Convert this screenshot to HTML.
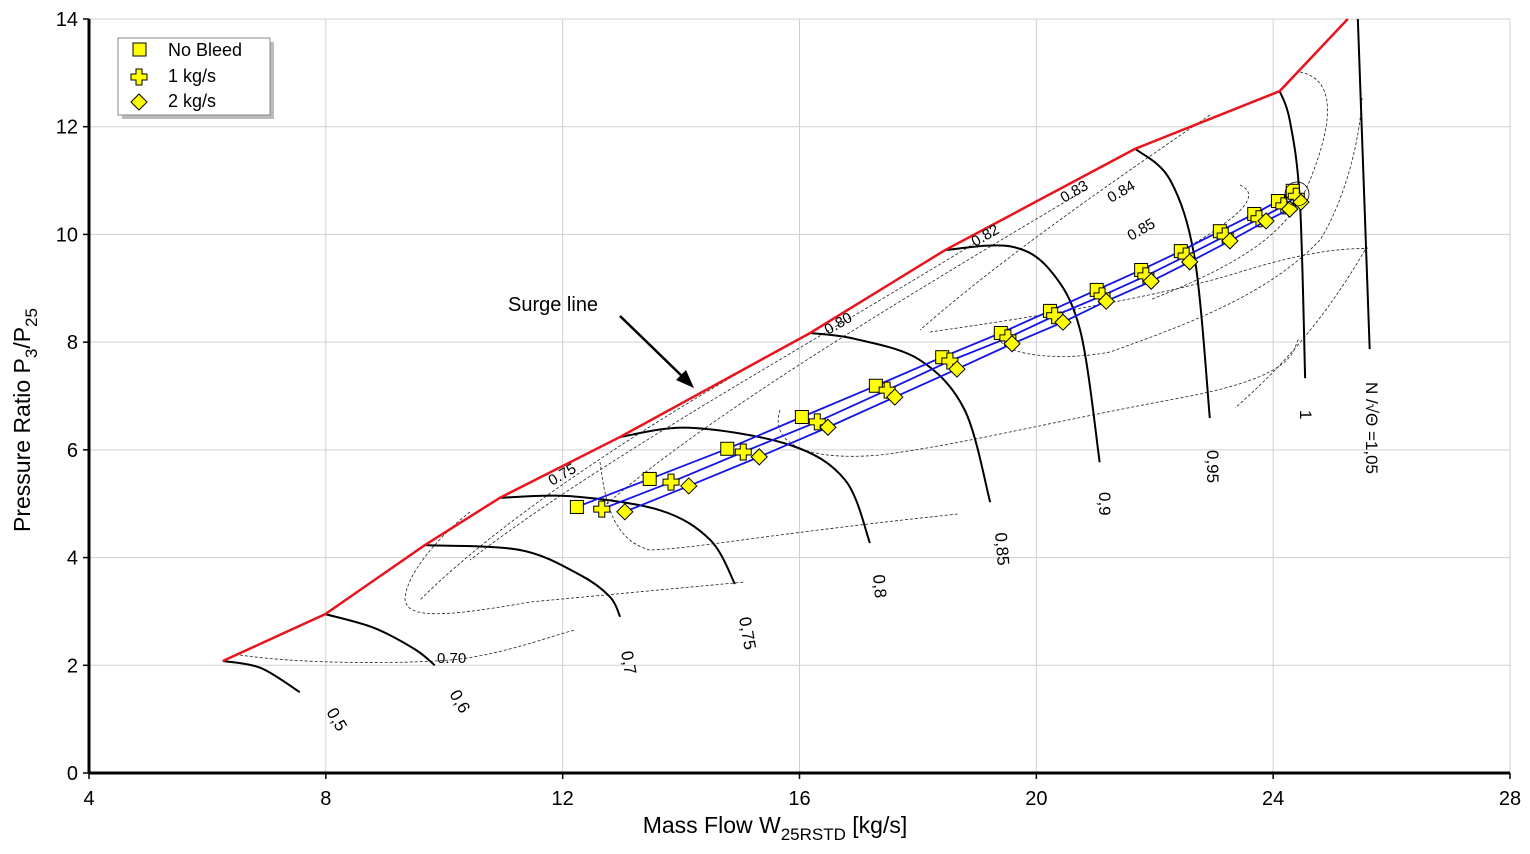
<!DOCTYPE html>
<html><head><meta charset="utf-8"><style>
body{margin:0;background:#fff;font-family:"Liberation Sans",sans-serif}
svg text{font-family:"Liberation Sans",sans-serif}
</style></head><body>
<svg id="chart" width="1530" height="849" viewBox="0 0 1530 849" xmlns="http://www.w3.org/2000/svg">
<g id="grid"></g>
<g id="contours" fill="none" stroke="#222" stroke-width="0.8" stroke-dasharray="3,2">
<path d="M240,655 C300,664 400,664 450,660 S560,633 575,630"/>
<path d="M470,512 C440,535 405,575 405,600 C408,618 440,618 530,602 L745,582"/>
<path d="M600,462 C605,500 612,540 650,550 C700,548 760,535 958,514"/>
<path d="M780,410 C770,440 800,462 880,455 C960,445 1050,422 1180,398 S1290,345 1300,338"/>
<path d="M930,332 C1000,322 1150,300 1240,272 S1360,250 1368,248"/>
<path d="M1240,185 C1262,195 1240,215 1200,240 C1120,285 1020,320 1000,335 C995,355 1060,362 1110,352 C1200,320 1270,292 1320,240 C1345,200 1360,140 1362,98"/>
<path d="M1300,72 C1340,80 1330,130 1310,180 C1290,230 1250,260 1150,300"/>
<path d="M1085,190 C900,300 700,420 600,510"/>
<path d="M975,243 C800,350 600,460 470,560"/>
<path d="M810,333 C650,420 500,520 420,600"/>
<path d="M1210,115 C1100,190 1000,260 920,330"/>
<path d="M1365,250 C1330,310 1290,360 1235,408"/>
</g>
<g id="speeds"></g>
<g id="surge"></g>
<g id="oplines"></g>
<g id="axes"></g>
<g font-size="17" fill="#000">
<text transform="translate(326,712) rotate(60)">0,5</text>
<text transform="translate(449,694) rotate(60)">0,6</text>
<text transform="translate(621,652) rotate(80)">0,7</text>
<text transform="translate(739,618) rotate(80)">0,75</text>
<text transform="translate(873,575) rotate(85)">0,8</text>
<text transform="translate(995,533) rotate(85)">0,85</text>
<text transform="translate(1099,492) rotate(90)">0,9</text>
<text transform="translate(1207,450) rotate(90)">0,95</text>
<text transform="translate(1300,410) rotate(90)">1</text>
<text transform="translate(1366,382) rotate(90)">N /√Θ =1,05</text>
</g>
<g font-size="15" fill="#000">
<text x="437" y="663">0.70</text>
<text transform="translate(552,486) rotate(-30)">0.75</text>
<text transform="translate(828,335) rotate(-30)">0.80</text>
<text transform="translate(975,247) rotate(-30)">0.82</text>
<text transform="translate(1064,203) rotate(-30)">0.83</text>
<text transform="translate(1111,203) rotate(-30)">0.84</text>
<text transform="translate(1131,241) rotate(-30)">0.85</text>
</g>
<text x="508" y="311" font-size="20">Surge line</text>
<line x1="620" y1="316" x2="686" y2="380" stroke="#000" stroke-width="2.5"/>
<polygon points="694,388 676,380 686,370" fill="#000"/>
<circle cx="1297" cy="194" r="12" fill="none" stroke="#000" stroke-width="0.8"/>
<g>
<rect x="122" y="42" width="152" height="77" fill="#bbb"/>
<rect x="118" y="38" width="152" height="77" fill="#fff" stroke="#888"/>
<rect x="133" y="43" width="13" height="13" fill="#ffff00" stroke="#000"/>
<text x="168" y="56" font-size="18">No Bleed</text>
<path d="M136,69h6v5h5v6h-5v5h-6v-5h-5v-6h5z" fill="#ffff00" stroke="#000"/>
<text x="168" y="82" font-size="18">1 kg/s</text>
<path d="M139,94l8,8l-8,8l-8,-8z" fill="#ffff00" stroke="#000"/>
<text x="168" y="107" font-size="18">2 kg/s</text>
</g>
<text x="775" y="833" font-size="23" text-anchor="middle">Mass Flow  W<tspan font-size="17" dy="7">25RSTD</tspan><tspan dy="-7"> [kg/s]</tspan></text>
<text transform="translate(30,420) rotate(-90)" font-size="23" text-anchor="middle">Pressure  Ratio  P<tspan font-size="17" dy="7">3</tspan><tspan dy="-7">/P</tspan><tspan font-size="17" dy="7">25</tspan></text>
</svg>
<script>
const xTicks=[4,8,12,16,20,24,28];
const yTicks=[0,2,4,6,8,10,12,14];
const surgeX=[6.26,7.99,9.67,10.94,12.97,16.18,18.46,21.67,24.11,25.26];
const surgeY=[2.08,2.95,4.23,5.11,6.24,8.17,9.71,11.59,12.66,14.0];
const speedNames=["0.5","0.6","0.7","0.75","0.8","0.85","0.9","0.95","1","1.05"];
const speedX=[[6.26,6.9,7.56],[7.99,8.8,9.5,9.84],[9.67,11.28,12.29,12.80,12.97],[10.94,12.12,13.64,14.49,14.91],[12.97,14.15,15.84,16.77,17.19],[16.18,16.94,18.03,18.79,19.22],[18.46,19.55,20.23,20.74,21.07],[21.67,22.26,22.68,22.93],[24.11,24.28,24.45,24.54],[25.43,25.63]];
const speedY=[[2.08,1.95,1.50],[2.95,2.7,2.3,2.0],[4.23,4.14,3.68,3.27,2.90],[5.11,5.14,4.88,4.33,3.51],[6.24,6.41,6.09,5.44,4.27],[8.17,8.06,7.67,6.74,5.03],[9.71,9.78,9.34,8.22,5.77],[11.59,11.01,9.52,6.59],[12.66,12.12,10.64,7.33],[14.0,7.87]];
const noBleedX=[12.24,13.47,14.78,16.04,17.29,18.41,19.40,20.23,21.02,21.77,22.44,23.10,23.68,24.08,24.33];
const noBleedY=[4.94,5.46,6.02,6.61,7.19,7.72,8.17,8.58,8.97,9.34,9.69,10.06,10.38,10.62,10.81];
const bleed1X=[12.66,13.83,15.05,16.30,17.48,18.54,19.52,20.31,21.11,21.85,22.53,23.19,23.76,24.18,24.39];
const bleed1Y=[4.90,5.40,5.96,6.52,7.11,7.65,8.08,8.49,8.86,9.23,9.60,9.97,10.29,10.53,10.71];
const bleed2X=[13.05,14.13,15.32,16.48,17.61,18.66,19.59,20.45,21.18,21.94,22.59,23.27,23.88,24.28,24.47];
const bleed2Y=[4.85,5.33,5.87,6.42,6.98,7.50,7.97,8.37,8.76,9.13,9.49,9.88,10.25,10.47,10.60];

const NS="http://www.w3.org/2000/svg";
const X0=89,X1=1510,Y0=773,Y1=19;
function sx(v){return X0+(v-4)/24*(X1-X0);}
function sy(v){return Y0-v/14*(Y0-Y1);}
function mk(tag,attrs,parent){const e=document.createElementNS(NS,tag);for(const k in attrs)e.setAttribute(k,attrs[k]);parent.appendChild(e);return e;}
function smooth(xs,ys){
  const p=xs.map((x,i)=>[sx(x),sy(ys[i])]);
  let d="M"+p[0][0]+","+p[0][1];
  for(let i=0;i<p.length-1;i++){
    const a=p[Math.max(0,i-1)],b=p[i],c=p[i+1],e=p[Math.min(p.length-1,i+2)];
    const c1=[b[0]+(c[0]-a[0])/6,b[1]+(c[1]-a[1])/6],c2=[c[0]-(e[0]-b[0])/6,c[1]-(e[1]-b[1])/6];
    d+=" C"+c1+" "+c2+" "+c;
  }
  return d;
}
const grid=document.getElementById('grid'),axes=document.getElementById('axes');
xTicks.forEach(t=>{
  const l=mk('line',{x1:sx(t),x2:sx(t),y1:Y1,y2:Y0,stroke:'#d0d0d0','stroke-width':1},grid);
  
  
  const tk=mk('line',{x1:sx(t),x2:sx(t),y1:Y0,y2:Y0+6,stroke:'#000','stroke-width':1.5},axes);
  
  
  const tx=mk('text',{x:sx(t),y:805,'font-size':20,'text-anchor':'middle'},axes);
  tx.textContent=t;
  
  
});
yTicks.forEach(t=>{
  const l=mk('line',{x1:X0,x2:X1,y1:sy(t),y2:sy(t),stroke:'#d0d0d0','stroke-width':1},grid);
  
  
  const tk=mk('line',{x1:X0-6,x2:X0,y1:sy(t),y2:sy(t),stroke:'#000','stroke-width':1.5},axes);
  
  
  const tx=mk('text',{x:78,y:sy(t)+7,'font-size':20,'text-anchor':'end'},axes);
  tx.textContent=t;
  
  
});
const xa=mk('line',{x1:X0,x2:X1,y1:Y0,y2:Y0,stroke:'#000','stroke-width':3},axes);


const ya=mk('line',{x1:X0,x2:X0,y1:Y1,y2:Y0,stroke:'#000','stroke-width':3},axes);



const speeds=document.getElementById('speeds');
speedX.forEach((xs,i)=>{
  const p=mk('path',{d:smooth(xs,speedY[i]),fill:'none',stroke:'#000','stroke-width':2},speeds);
  
  
});
const surge=document.getElementById('surge');
const sp=mk('polyline',{points:surgeX.map((x,i)=>sx(x)+","+sy(surgeY[i])).join(" "),fill:'none',stroke:'#e8141e','stroke-width':2.5},surge);



const op=document.getElementById('oplines');
function series(xs,ys,name,shape){
  const l=mk('polyline',{points:xs.map((x,i)=>sx(x)+","+sy(ys[i])).join(" "),fill:'none',stroke:'#1414e6','stroke-width':1.8},op);
  
  
  xs.forEach((x,i)=>{
    const cx=sx(x),cy=sy(ys[i]);let m;
    if(shape==='sq')m=mk('rect',{x:cx-6.5,y:cy-6.5,width:13,height:13,fill:'#ffff00',stroke:'#000'},op);
    else if(shape==='plus')m=mk('path',{d:`M${cx-3},${cy-8}h6v5h5v6h-5v5h-6v-5h-5v-6h5z`,fill:'#ffff00',stroke:'#000'},op);
    else m=mk('path',{d:`M${cx},${cy-8}l8,8l-8,8l-8,-8z`,fill:'#ffff00',stroke:'#000'},op);
    
    
  });
}
series(noBleedX,noBleedY,'no-bleed','sq');
series(bleed1X,bleed1Y,'bleed-1kg','plus');
series(bleed2X,bleed2Y,'bleed-2kg','dia');
</script>
</body></html>
